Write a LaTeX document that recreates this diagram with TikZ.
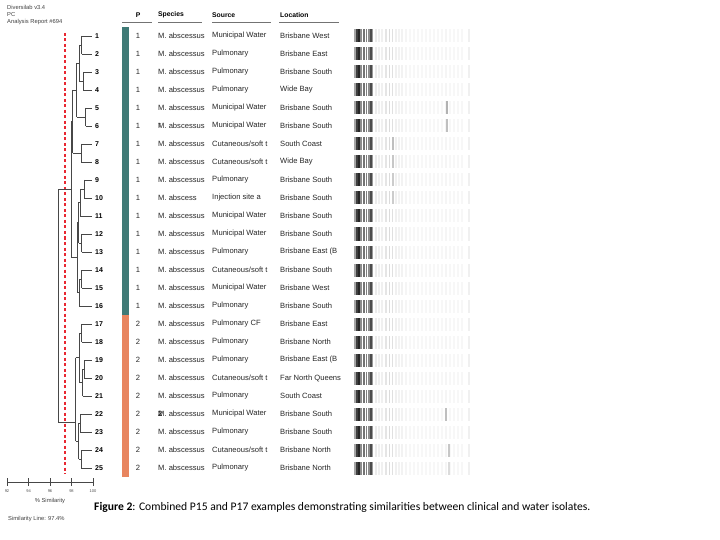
\documentclass[tikz,border=0pt]{standalone}
\usepackage{fontspec}
\setmainfont{Liberation Sans}
\newfontfamily\capfont{Carlito}
\usepackage{xcolor}
\usetikzlibrary{calc, positioning}
\definecolor{grpteal}{HTML}{3F7A76}
\definecolor{grporange}{HTML}{E8855F}
\definecolor{simred}{RGB}{232,40,50}

\begin{document}
\begin{tikzpicture}[x=1pt, y=-1pt,
  tree/.style={draw=black!72, line width=0.7pt},
  cutoff/.style={draw=simred, line width=1.1pt, dash pattern=on 3pt off 2.5pt},
  leaflbl/.style={anchor=west, inner sep=3pt, font=\bfseries\fontsize{7}{8}\selectfont},
  cell/.style={anchor=west, inner sep=0pt, font=\fontsize{7.6}{8}\selectfont, text=black!85},
  head/.style={anchor=west, inner sep=0pt, font=\bfseries\fontsize{6.8}{8}\selectfont},
  info/.style={anchor=west, inner sep=0pt, font=\fontsize{5.8}{6.5}\selectfont, text=black!75},
  rule/.style={draw=black!55, line width=0.9pt}]
\useasboundingbox (0,0) rectangle (720,540);

% report header
\node[info] (prog) at (7,7.5) {Diversilab v3.4};
\node[info] (pc) at (7,15) {PC};
\node[info] (rep) at (7,22.5) {Analysis Report \#694};

% similarity cut-off
\coordinate (cuttop) at (65,33);
\coordinate (cutbot) at (65,474);
\draw[cutoff] (cuttop) -- (cutbot);

% leaves
\foreach \i/\x in {1/81.7,2/81.7,3/83.3,4/83.3,5/85.7,6/85.7,7/81,8/81,9/84.3,10/84.3,11/80,12/81.7,13/81.7,
    14/81.7,15/81.7,16/79.3,17/81.7,18/81.7,19/84.3,20/84.3,21/82.5,22/80,23/80,24/81,25/81} {
  \pgfmathsetmacro\ry{36+18*(\i-1)}
  \node[leaflbl] (l\i) at (92,\ry) {\i};
  \draw[tree] (\x,\ry) -- (l\i.west);
}
% clade brackets
\foreach \x/\ya/\yb in {81.7/36/54, 83.3/72/90, 79.3/45/81, 85.7/108/126, 76.7/63/117, 81/144/162,
    72.5/90/153, 84.3/180/198, 80/189/216, 81.7/234/252, 78.5/202.5/243, 81.7/270/288, 79.3/279/306,
    77.3/222.7/292.5, 71.7/121.5/257.6, 81.7/324/342, 84.3/360/378, 82.5/369/396, 79/333/382.5,
    80/414/432, 81/450/468, 78.5/423/459, 75.7/357.7/441, 58.3/189.5/422}
  \draw[tree] (\x,\ya) -- (\x,\yb);
% links to parent clades
\foreach \xa/\xb/\y in {79.3/81.7/45, 79.3/83.3/81, 76.7/79.3/63, 76.7/85.7/117, 72.5/76.7/90,
    72.5/81/153, 71.7/72.5/121.5, 80/84.3/189, 78.5/80/202.5, 78.5/81.7/243, 77.3/78.5/222.7,
    79.3/81.7/279, 77.3/79.3/292.5, 71.7/77.3/257.6, 58.3/71.7/189.5, 79/81.7/333, 82.5/84.3/369,
    79/82.5/382.5, 75.7/79/357.7, 78.5/80/423, 78.5/81/459, 75.7/78.5/441, 58.3/75.7/422}
  \draw[tree] (\xa,\y) -- (\xb,\y);

% similarity axis
\draw[tree] (7,482) -- (93,482);
\foreach \v in {92,94,96,98,100} {
  \pgfmathsetmacro\ax{7+(\v-92)*10.75}
  \draw[tree] (\ax,478) -- (\ax,486);
  \node[font=\fontsize{4}{4}\selectfont, text=black!70, inner sep=0pt] (t\v) at (\ax,491.5) {\v};
}
\node[info, anchor=center] (axlbl) at (50,501) {\% Similarity};
\node[info] (simline) at (8,518.5) {Similarity Line: 97.4\%};

% table header
\node[head] (hp) at (135.6,15) {P};
\node[head] (hsp) at (158,15) {Species};
\node[head] (hsrc) at (212,15) {Source};
\node[head] (hloc) at (280,15) {Location};
\draw[rule] (122,22.5) -- (152,22.5);
\draw[rule] (158,22.5) -- (202,22.5);
\draw[rule] (212,22.5) -- (271,22.5);
\draw[rule] (279,22.5) -- (339,22.5);

% pattern bar
\fill[grpteal] (122,27) rectangle (129,315);
\fill[grporange] (122,315) rectangle (129,477);

% rows
\foreach \i/\p/\sp/\src/\loc in {
    1/1/M. abscessus/Municipal Water/Brisbane West,
    2/1/M. abscessus/Pulmonary/Brisbane East,
    3/1/M. abscessus/Pulmonary/Brisbane South,
    4/1/M. abscessus/Pulmonary/Wide Bay,
    5/1/M. abscessus/Municipal Water/Brisbane South,
    6/1/{\rlap{\raisebox{0.8pt}{\fontsize{5.5}{6}\selectfont 7}}M. abscessus}/Municipal Water/Brisbane South,
    7/1/M. abscessus/{Cutaneous/soft t}/South Coast,
    8/1/M. abscessus/{Cutaneous/soft t}/Wide Bay,
    9/1/M. abscessus/Pulmonary/Brisbane South,
    10/1/M. abscess/Injection site a/Brisbane South,
    11/1/M. abscessus/Municipal Water/Brisbane South,
    12/1/M. abscessus/Municipal Water/Brisbane South,
    13/1/M. abscessus/Pulmonary/Brisbane East (B,
    14/1/M. abscessus/{Cutaneous/soft t}/Brisbane South,
    15/1/M. abscessus/Municipal Water/Brisbane West,
    16/1/M. abscessus/Pulmonary/Brisbane South,
    17/2/M. abscessus/Pulmonary CF/Brisbane East,
    18/2/M. abscessus/Pulmonary/Brisbane North,
    19/2/M. abscessus/Pulmonary/Brisbane East (B,
    20/2/M. abscessus/{Cutaneous/soft t}/Far North Queens,
    21/2/M. abscessus/Pulmonary/South Coast,
    22/2/{\rlap{\bfseries 2}M. abscessus}/Municipal Water/Brisbane South,
    23/2/M. abscessus/Pulmonary/Brisbane South,
    24/2/M. abscessus/{Cutaneous/soft t}/Brisbane North,
    25/2/M. abscessus/Pulmonary/Brisbane North} {
  \pgfmathsetmacro\ry{36+18*(\i-1)}
  \node[cell, anchor=center] (p\i) at (138,\ry) {\p};
  \node[cell] (sp\i) at (158,\ry) {\sp};
  \node[cell] (src\i) at (212,\ry) {\src};
  \node[cell] (loc\i) at (280,\ry) {\loc};
}

% gel bands
\foreach \i in {1,...,25} {
  \pgfmathsetmacro\ry{36+18*(\i-1)}
  \foreach \bx/\bd in {355/35, 357/75, 359/85, 361/45, 364/55, 366.5/50, 369/45, 370.8/70, 372.6/40,
      376/8, 379/6, 382/6, 386/10, 389.5/14, 392.5/12, 396/6, 399/5, 402/5, 406/4, 410/3, 414/3,
      418/3, 422/3, 426/3, 430/3, 434/3, 438/3, 442/3, 446/4, 450/3, 454/3, 458/3, 462/3, 469/6}
    \fill[black!\bd] (\bx-0.8,\ry-6.5) rectangle (\bx+0.8,\ry+6.5);
}
\foreach \i/\bx/\bd in {5/447/30, 6/447/25, 7/393/25, 8/393/22, 9/393/20, 10/393/20, 22/446/25, 24/449/22, 25/449/14}
  \fill[black!\bd] (\bx-0.8,36+18*\i-18-6.5) rectangle (\bx+0.8,36+18*\i-18+6.5);

% caption
\node[anchor=west, inner sep=0pt, font=\capfont\fontsize{11.6}{14}\selectfont] (cap) at (94,507)
  {\textbf{Figure 2}: Combined P15 and P17 examples demonstrating similarities between clinical and water isolates.};
\end{tikzpicture}
\end{document}
